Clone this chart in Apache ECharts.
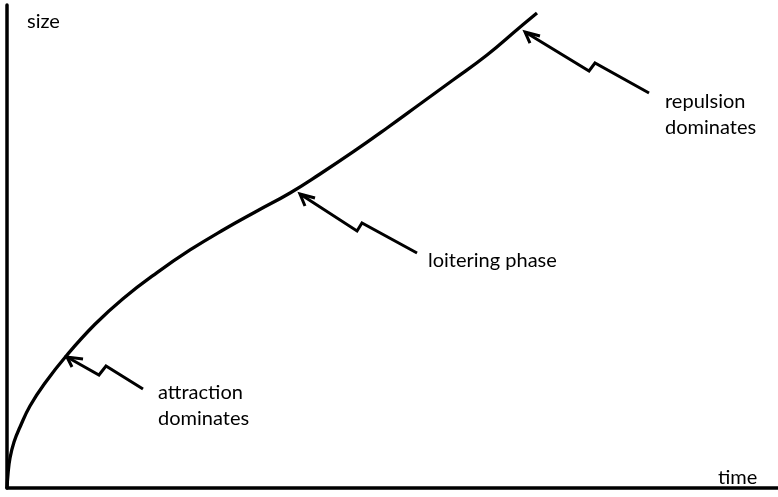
<!DOCTYPE html>
<html>
<head>
<meta charset="utf-8">
<script src="https://cdn.jsdelivr.net/npm/echarts@6/dist/echarts.min.js"></script>
<style>
html, body { margin: 0; padding: 0; background: #fff; }
#chart { width: 778px; height: 497px; }
</style>
</head>
<body>
<div id="chart"></div>
<script>
// growth curve, time vs size (arbitrary units 0..100)
var timeVals = [0, 0.13, 0.39, 0.91, 1.69, 2.98, 4.93, 7.78, 11.41, 15.04, 19.46, 23.74, 28.02, 32.43, 36.71, 40.60, 44.88, 49.29, 53.57, 57.85, 62.26, 66.41, 68.74];
var sizeVals = [0, 2.90, 6.21, 9.52, 12.63, 16.98, 21.74, 27.54, 33.90, 39.20, 44.60, 49.28, 53.42, 57.35, 61.08, 65.01, 69.57, 74.53, 79.50, 84.47, 89.65, 95.24, 98.34];

// annotation arrows: arrow head (arm, tip, arm) and zigzag shaft (tip, zig, zag, end)
var attractionHead = [[8.43, 25.05], [7.78, 27.12], [9.86, 26.71]];
var attractionShaft = [[7.78, 27.12], [11.93, 23.40], [12.84, 25.26], [17.64, 20.50]];
var loiterHead = [[38.65, 58.39], [38.0, 60.87], [39.95, 60.04]];
var loiterShaft = [[38.0, 60.87], [45.40, 53.21], [46.04, 54.87], [53.18, 48.65]];
var repulsionHead = [[67.83, 92.13], [67.19, 94.41], [69.13, 93.58]];
var repulsionShaft = [[67.19, 94.41], [75.49, 86.34], [76.26, 87.99], [83.27, 81.78]];

var labelFont = '20px Lato, "Open Sans", sans-serif';

var curveData = timeVals.map(function(t, i) {
	return [t, sizeVals[i]];
});

var arrowSeries = function(data) {
	return {
		type: 'line',
		data: data,
		showSymbol: false,
		silent: true,
		lineStyle: { color: '#000', width: 3, join: 'miter' }
	};
};

var text = function(x, y, str) {
	return {
		type: 'text',
		x: x,
		y: y,
		style: {
			text: str,
			font: labelFont,
			fill: '#000',
			verticalAlign: 'middle'
		}
	};
};

var chart = echarts.init(document.getElementById('chart'));
chart.setOption({
	animation: false,
	grid: { left: 7, right: 0, top: 5, bottom: 9 },
	xAxis: {
		type: 'value', min: 0, max: 100,
		axisLine: { lineStyle: { color: '#000', width: 3.5 } },
		axisTick: { show: false },
		axisLabel: { show: false },
		splitLine: { show: false }
	},
	yAxis: {
		type: 'value', min: 0, max: 100,
		axisLine: { show: true, lineStyle: { color: '#000', width: 3.5 } },
		axisTick: { show: false },
		axisLabel: { show: false },
		splitLine: { show: false }
	},
	series: [
		{
			type: 'line',
			data: curveData,
			smooth: 0.45,
			showSymbol: false,
			lineStyle: { color: '#000', width: 3.3 }
		},
		arrowSeries(attractionHead),
		arrowSeries(attractionShaft),
		arrowSeries(loiterHead),
		arrowSeries(loiterShaft),
		arrowSeries(repulsionHead),
		arrowSeries(repulsionShaft)
	],
	graphic: [
		text(27, 22, 'size'),
		text(718, 478, 'time'),
		text(158, 393, 'attraction'),
		text(158, 419, 'dominates'),
		text(428, 261, 'loitering phase'),
		text(665, 102, 'repulsion'),
		text(665, 128, 'dominates')
	]
});
</script>
</body>
</html>
